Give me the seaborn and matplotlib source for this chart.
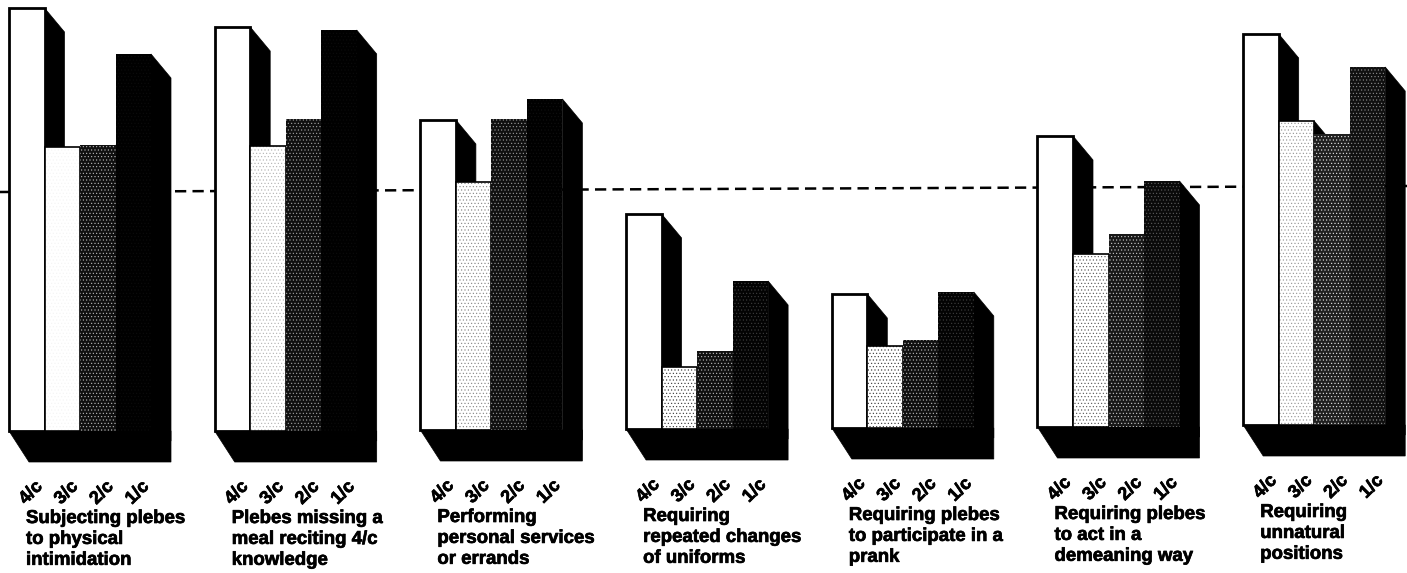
import matplotlib
matplotlib.use("Agg")
import matplotlib.pyplot as plt
import matplotlib.patheffects as pe
import pandas as pd
import seaborn as sns
from matplotlib.patches import Polygon, Rectangle

classes = ["4/c", "3/c", "2/c", "1/c"]
topics = [
    "Subjecting plebes\nto physical\nintimidation",
    "Plebes missing a\nmeal reciting 4/c\nknowledge",
    "Performing\npersonal services\nor errands",
    "Requiring\nrepeated changes\nof uniforms",
    "Requiring plebes\nto participate in a\nprank",
    "Requiring plebes\nto act in a\ndemeaning way",
    "Requiring\nunnatural\npositions",
]

# bar heights (no axis in the original, so pixel-like units)
values_4c = [423, 404, 310, 215, 134, 291, 391]
values_3c = [284, 285, 248, 62, 82, 173, 304]
values_2c = [286, 312, 311, 78, 88, 193, 291]
values_1c = [377, 401, 331, 148, 136, 246, 358]
reference_level = [239, 245]

# the scan is slightly tilted, baseline creeps up to the right
tilt = [0, 0, 1, 2, 3, 4, 6]

group_px = 205.7
depth_x = 20 / group_px
depth_y = 24
floor_x = 20 / group_px
floor_y = 31

# halftone per bar: face colour and dot colour
face_3c = ["white"] * 7
dots_3c = ["#f4f4f4", "#b0b0b0", "#808080", "#303030", "#303030", "#505050", "#909090"]
face_2c = ["#101010", "#101010", "#101010", "#101010", "#101010", "#181818", "#202020"]
dots_2c = ["#c0c0c0", "#a8a8a8", "#a0a0a0", "#c0c0c0", "#c0c0c0", "#d0d0d0", "#f0f0f0"]
face_1c = ["#000000", "#000000", "#000000", "#030303", "#030303", "#0a0a0a", "#101010"]
dots_1c = ["#0c0c0c", "#0c0c0c", "#101010", "#404040", "#404040", "#606060", "#909090"]

df = pd.DataFrame({
    "topic": topics * 4,
    "cls": sum([[c] * 7 for c in classes], []),
    "value": values_4c + values_3c + values_2c + values_1c,
})

sns.set_style("white")
plt.rcParams["font.family"] = ["Liberation Sans", "DejaVu Sans"]
plt.rcParams["hatch.linewidth"] = 0.4

fig = plt.figure(figsize=(14.07, 5.73), dpi=100)
ax = fig.add_axes([0, 0, 1, 1])

sns.barplot(
    data=df, x="topic", y="value", hue="cls",
    order=topics, hue_order=classes,
    palette=["white", "white", "#141414", "black"],
    width=142 / group_px, dodge=True, gap=0, legend=False,
    saturation=1, ax=ax,
)

ax.set_xlim(-80 / group_px, (1407 - 80) / group_px)
ax.set_ylim(431 - 573, 431)
ax.axis("off")

heavy = [pe.withStroke(linewidth=0.5, foreground="black")]

bars = list(ax.patches)
for c, cls in enumerate(classes):
    for g in range(len(topics)):
        bar = bars[c * len(topics) + g]
        left, w, h = bar.get_x(), bar.get_width(), bar.get_height()
        base = tilt[g]
        bar.set_y(base)
        bar.set_zorder(3 + 2 * c)

        if c == 0:
            bar.set(facecolor="white", edgecolor="black", linewidth=2)
        else:
            if c == 1:
                fc, ec = face_3c[g], dots_3c[g]
            elif c == 2:
                fc, ec = face_2c[g], dots_2c[g]
            else:
                fc, ec = face_1c[g], dots_1c[g]
            bar.set(facecolor=fc, edgecolor=ec, hatch=".....", linewidth=0)
            if c == 1:
                ax.add_patch(Rectangle((left, base), w, h, fill=False, ec="black",
                                       lw=1.2, zorder=3 + 2 * c))

        # black extruded side
        right = left + w
        top = base + h
        ax.add_patch(Polygon(
            [(right, top), (right + depth_x, top - depth_y),
             (right + depth_x, base - 10), (right, base)],
            closed=True, fc="black", ec="black", lw=0.5, zorder=2 + 2 * c,
        ))

for g in range(len(topics)):
    group_bars = [bars[c * len(topics) + g] for c in range(4)]
    x0 = group_bars[0].get_x()
    x1 = group_bars[3].get_x() + group_bars[3].get_width()
    base = tilt[g]
    ax.add_patch(Polygon(
        [(x0, base), (x0 + floor_x, base - floor_y), (x1 + depth_x, base - floor_y),
         (x1 + depth_x, base), (x1, base)],
        closed=True, fc="black", ec="black", lw=0.5, zorder=1,
    ))

    for bar, cls in zip(group_bars, classes):
        ax.text(bar.get_x() + bar.get_width() * 0.62, base - 62, cls,
                rotation=45, ha="center", va="center",
                fontsize=13, fontweight="bold", color="black", path_effects=heavy)

    ax.text(x0 + 17 / group_px, base - 79, topics[g], ha="left", va="top",
            fontsize=13.4, fontweight="bold", color="black", linespacing=1.3,
            path_effects=heavy)

# dashed reference line behind the bars
ax.plot([-80 / group_px, (1407 - 80) / group_px], reference_level,
        color="black", lw=1.8, ls=(0, (4.5, 2.5)), zorder=0.5)

fig.savefig("out.png", dpi=100, facecolor="white")
